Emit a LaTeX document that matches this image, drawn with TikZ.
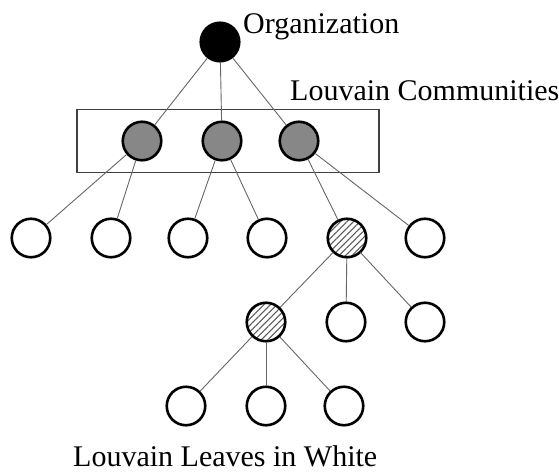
\documentclass[tikz,border=0pt]{standalone}
\usepackage{fontspec}
\setmainfont{Liberation Serif}
\usetikzlibrary{patterns.meta}
\begin{document}
\begin{tikzpicture}[x=1pt,y=-1pt,
  vtx/.style={circle,draw=black,line width=2.6pt,minimum size=38.5pt,inner sep=0pt},
  leaf/.style={vtx,fill=white},
  comm/.style={vtx,fill=black!47},
  org/.style={vtx,fill=black},
  sub/.style={vtx,pattern={Lines[angle=45,distance=4.6pt,line width=1.1pt]},pattern color=black!65},
  edge/.style={draw=black!60,line width=0.9pt},
  lbl/.style={font=\fontsize{30}{36}\selectfont,anchor=base west,inner sep=0pt}]
\useasboundingbox (0,0) rectangle (559,471);
\node[draw=black!75,line width=1.3pt,minimum width=302pt,minimum height=63pt,inner sep=0pt] (box) at (228,141) {};
\node[org] (r) at (220,42) {};
\node[comm] (c1) at (142,141) {};
\node[comm] (c2) at (222,141) {};
\node[comm] (c3) at (299,141) {};
\node[leaf] (l1) at (31,238) {};
\node[leaf] (l2) at (111,238) {};
\node[leaf] (l3) at (188,238) {};
\node[leaf] (l4) at (267,238) {};
\node[sub] (s1) at (347,238) {};
\node[leaf] (l6) at (425,238) {};
\node[sub] (s2) at (266,322) {};
\node[leaf] (m2) at (346,322) {};
\node[leaf] (m3) at (425,322) {};
\node[leaf] (b1) at (186,406) {};
\node[leaf] (b2) at (266,406) {};
\node[leaf] (b3) at (344,406) {};
\foreach \a/\b in {r/c1,r/c2,r/c3,c1/l1,c1/l2,c2/l3,c2/l4,c3/s1,c3/l6,s1/s2,s1/m2,s1/m3,s2/b1,s2/b2,s2/b3}
  \draw[edge] (\a) -- (\b);
\node[lbl] (t1) at (243,33) {Organization};
\node[lbl] (t2) at (290,100) {Louvain Communities};
\node[lbl] (t3) at (73,466) {Louvain Leaves in White};
\end{tikzpicture}
\end{document}
